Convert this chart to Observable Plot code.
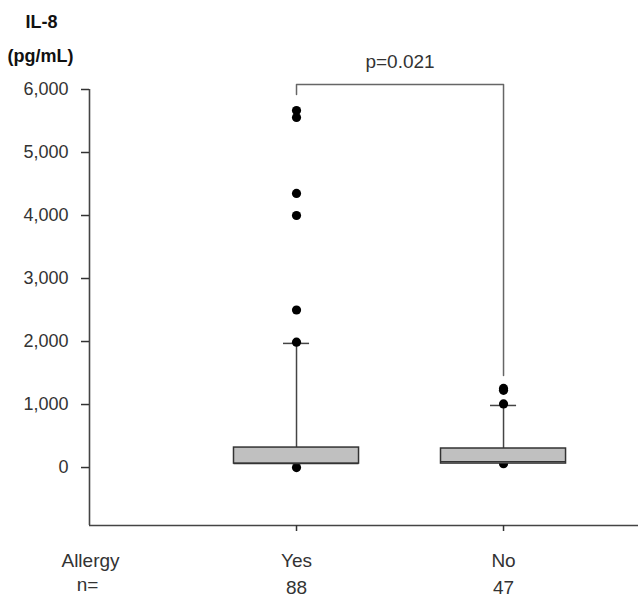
<!DOCTYPE html>
<html><head><meta charset="utf-8">
<script src="https://cdn.jsdelivr.net/npm/d3@7"></script>
<script src="https://cdn.jsdelivr.net/npm/@observablehq/plot@0.6"></script>
<style>html,body{margin:0;padding:0;background:#fff}#chart svg{display:block}</style>
</head><body><div id="chart"></div>
<script>
// ---- data ----
const groups = ["Yes", "No"];
const nCounts = [88, 47];
const q1 = [63, 63];
const medians = [63, 95];
const q3 = [317, 302];
const whiskerHigh = [1970, 985];
const outliersYes = [5667, 5556, 4350, 4000, 2500, 1990, 0];
const outliersNo = [1255, 1225, 1010, 60];
const yTicks = [0, 1000, 2000, 3000, 4000, 5000, 6000];
const pValueLabel = "p=0.021";
const bracketTop = 6080;
const bracketLeftEnd = 5920;
const bracketRightEnd = 1460;
const groupLabel = "Allergy";
const nLabel = "n=";
const titleText = "IL-8";
const unitText = "(pg/mL)";

// ---- tables built from the arrays ----
const boxes = groups.map((g, i) => ({g, pos: i + 1, q1: q1[i], med: medians[i], q3: q3[i], hi: whiskerHigh[i], n: String(nCounts[i])}));
const outliers = [
  ...outliersYes.map(v => ({pos: 1, v})),
  ...outliersNo.map(v => ({pos: 2, v}))
];
const bracket = [
  {pos: 1, v: bracketLeftEnd}, {pos: 1, v: bracketTop},
  {pos: 2, v: bracketTop}, {pos: 2, v: bracketRightEnd}
];
const pMid = [{pos: (boxes[0].pos + boxes[1].pos) / 2, v: bracketTop, t: pValueLabel}];

const HW = 0.302, CW = 0.063;
const font = "'Liberation Sans', Arial, Helvetica, sans-serif";

const chart = Plot.plot({
  width: 638, height: 598,
  marginLeft: 89, marginRight: 0, marginTop: 89, marginBottom: 73,
  style: {fontFamily: font, color: "#333", background: "#fff", overflow: "visible"},
  x: {domain: [0, 2.652]},
  y: {domain: [-920, 6000]},
  marks: [
    Plot.ruleX([0], {stroke: "#444", strokeWidth: 1.6}),
    Plot.ruleY([-920], {stroke: "#444", strokeWidth: 1.6}),
    Plot.axisY({ticks: yTicks, tickSize: 8, tickPadding: 13, fontSize: 18, strokeWidth: 1.5, label: null}),
    Plot.axisX({ticks: boxes.map(d => d.pos), tickSize: 6, tickFormat: () => "", strokeWidth: 1.5, label: null}),
    Plot.ruleX(boxes, {x: "pos", y1: "q3", y2: "hi", stroke: "#444", strokeWidth: 1.5}),
    Plot.ruleY(boxes, {y: "hi", x1: d => d.pos - CW, x2: d => d.pos + CW, stroke: "#444", strokeWidth: 1.5}),
    Plot.dot(outliers, {x: "pos", y: "v", r: 4.6, fill: "#000", stroke: null}),
    Plot.rect(boxes, {x1: d => d.pos - HW, x2: d => d.pos + HW, y1: "q1", y2: "q3", fill: "#c0c0c0", stroke: "#333", strokeWidth: 1.5}),
    Plot.ruleY(boxes, {y: "med", x1: d => d.pos - HW, x2: d => d.pos + HW, stroke: "#333", strokeWidth: 1.2}),
    Plot.line(bracket, {x: "pos", y: "v", stroke: "#666", strokeWidth: 1.5, curve: "linear"}),
    Plot.text(pMid, {x: "pos", y: "v", text: "t", lineAnchor: "bottom", dy: -16, fontSize: 19, fill: "#333"}),
    Plot.text(boxes, {x: "pos", text: "g", frameAnchor: "bottom", lineAnchor: "bottom", dy: 41, fontSize: 19, fill: "#333"}),
    Plot.text(boxes, {x: "pos", text: "n", frameAnchor: "bottom", lineAnchor: "bottom", dy: 68, fontSize: 19, fill: "#333"}),
    Plot.text([groupLabel], {frameAnchor: "bottom-left", textAnchor: "middle", lineAnchor: "bottom", dx: 1, dy: 41, fontSize: 19, fill: "#333"}),
    Plot.text([nLabel], {frameAnchor: "bottom-left", textAnchor: "middle", lineAnchor: "bottom", dx: -2, dy: 65, fontSize: 19, fill: "#333"}),
    Plot.text([titleText], {frameAnchor: "top-left", textAnchor: "start", lineAnchor: "bottom", dx: -64, dy: -62, fontSize: 18, fontWeight: "bold", fill: "#111"}),
    Plot.text([unitText], {frameAnchor: "top-left", textAnchor: "start", lineAnchor: "bottom", dx: -82, dy: -28, fontSize: 18, fontWeight: "bold", fill: "#111"})
  ]
});
document.getElementById("chart").appendChild(chart);
</script>
</body></html>
